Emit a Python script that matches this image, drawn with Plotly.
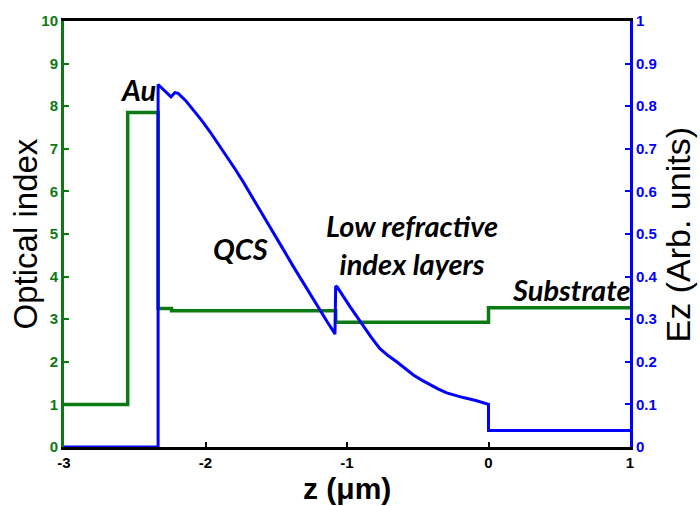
import plotly.graph_objects as go

# Optical index profile (step function)
z_n = [-3.0, -2.55, -2.55, -2.335, -2.335, -2.24, -2.24, -1.08, -1.08, 0.0, 0.0, 1.0]
n_vals = [1.0, 1.0, 7.85, 7.85, 3.25, 3.25, 3.2, 3.2, 2.93, 2.93, 3.27, 3.27]

# Ez field profile
z_e = [-3.0, -2.335, -2.335, -2.30, -2.244, -2.216, -2.193, -2.14, -2.086, -2.03,
       -1.968, -1.91, -1.85, -1.79, -1.733, -1.675, -1.615, -1.555, -1.497, -1.44,
       -1.38, -1.32, -1.261, -1.20, -1.14, -1.097, -1.085, -1.08, -1.07, -0.98,
       -0.885, -0.826, -0.767, -0.708, -0.649, -0.59, -0.531, -0.472, -0.413, -0.354,
       -0.295, -0.236, -0.178, -0.09, -0.013, 0.0, 0.0, 1.0]
ez_vals = [0.0, 0.0, 0.851, 0.840, 0.822, 0.832, 0.830, 0.813, 0.792, 0.768,
           0.740, 0.712, 0.683, 0.652, 0.622, 0.590, 0.557, 0.524, 0.491, 0.458,
           0.424, 0.391, 0.358, 0.325, 0.294, 0.272, 0.265, 0.378, 0.376, 0.330,
           0.284, 0.256, 0.231, 0.214, 0.200, 0.184, 0.169, 0.157, 0.146, 0.136,
           0.127, 0.121, 0.116, 0.109, 0.102, 0.100, 0.039, 0.039]

x_ticks = [-3, -2, -1, 0, 1]
x_text = ["-3", "-2", "-1", "0", "1"]
y_ticks = list(range(0, 11))
y2_ticks = [0, 0.1, 0.2, 0.3, 0.4, 0.5, 0.6, 0.7, 0.8, 0.9, 1]
y2_text = ["0", "0.1", "0.2", "0.3", "0.4", "0.5", "0.6", "0.7", "0.8", "0.9", "1"]

labels = [
    ("Au", -2.477, 8.39),
    ("QCS", -1.756, 4.66),
    ("Low refractive<br>index layers", -0.544, 4.76),
    ("Substrate", 0.586, 3.70),
]

x_title = "z (μm)"
y_title = "Optical index"
y2_title = "Ez (Arb. units)"

GREEN = "#0c7a12"
BLUE = "#0000ff"

fig = go.Figure()
fig.add_trace(go.Scatter(x=z_n, y=n_vals, mode="lines", line=dict(color=GREEN, width=3.5),
                         yaxis="y", showlegend=False, hoverinfo="skip"))
fig.add_trace(go.Scatter(x=z_e, y=ez_vals, mode="lines", line=dict(color=BLUE, width=3),
                         yaxis="y2", showlegend=False, hoverinfo="skip"))

for text, x, y in labels:
    fig.add_annotation(x=x, y=y, xref="x", yref="y", text=text, showarrow=False,
                       font=dict(family="Lato", size=29, color="black", weight="bold",
                                 style="italic"),
                       align="center")

# axis titles as annotations for precise placement
fig.add_annotation(x=0.5, y=-0.0966, xref="paper", yref="paper", text=x_title,
                   showarrow=False, xanchor="center", yanchor="middle", borderpad=0,
                   font=dict(family="Liberation Sans, Arial", size=30, weight="bold",
                             color="black"))
fig.add_annotation(x=-0.0689, y=0.499, xref="paper", yref="paper", text=y_title,
                   showarrow=False, textangle=-90, xanchor="center", yanchor="middle",
                   font=dict(family="Liberation Sans, Arial", size=33, color="black"))
fig.add_annotation(x=1.0848, y=0.499, xref="paper", yref="paper", text=y2_title,
                   showarrow=False, textangle=-90, xanchor="center", yanchor="middle",
                   font=dict(family="Liberation Sans, Arial", size=34, color="black"))

tickfont = dict(family="Liberation Sans, Arial", size=15, weight="bold")

fig.update_layout(
    width=700, height=506,
    margin=dict(l=64, r=70, t=12, b=59),
    paper_bgcolor="white", plot_bgcolor="white",
    xaxis=dict(range=[-3, 1], tickvals=x_ticks, ticktext=x_text, ticks="inside", ticklen=5,
               tickwidth=2, tickcolor="black", showline=True, linecolor="black", linewidth=3,
               mirror=True, showgrid=False, zeroline=False,
               tickfont=dict(tickfont, color="black")),
    yaxis=dict(range=[0, 10], tickvals=y_ticks, ticks="inside", ticklen=5, tickwidth=2,
               tickcolor=GREEN, showline=True, linecolor=GREEN, linewidth=3,
               showgrid=False, zeroline=False,
               tickfont=dict(tickfont, color=GREEN)),
    yaxis2=dict(range=[0, 1], tickvals=y2_ticks, ticktext=y2_text, overlaying="y",
                side="right", ticks="inside", ticklen=5, tickwidth=2, tickcolor=BLUE,
                showline=True, linecolor=BLUE, linewidth=3, showgrid=False, zeroline=False,
                tickfont=dict(tickfont, color=BLUE)),
)

fig.write_html("out.html")
